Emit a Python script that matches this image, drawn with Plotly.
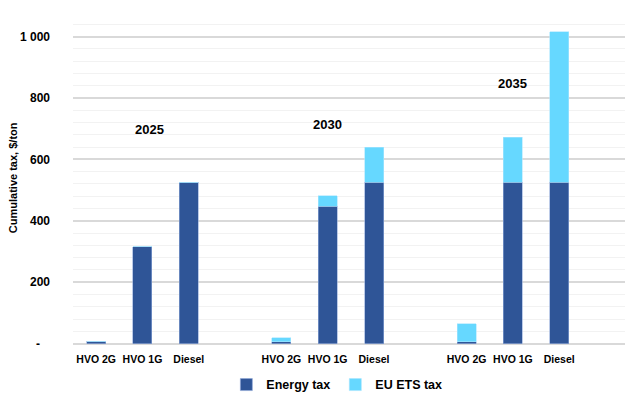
import plotly.graph_objects as go

# Cumulative tax per fuel, grouped by year
years = ["2025", "2030", "2035"]
fuels = ["HVO 2G", "HVO 1G", "Diesel"]
energy_tax = [8, 315, 526, 6, 448, 526, 6, 526, 526]
ets_tax = [0, 0, 0, 14, 33, 114, 59, 147, 489]
year_label_y = [696, 715, 846]

y_ticks = [0, 200, 400, 600, 800, 1000]
y_ticktext = ["-\u00a0\u00a0\u00a0", "200", "400", "600", "800", "1 000"]

# each year occupies four slots: three fuels plus an empty gap
x_pos = [g * 4 + i for g in range(len(years)) for i in range(len(fuels))]
x_text = [f for _ in years for f in fuels]

FONT = "Liberation Sans, Arial, sans-serif"
DARK = "#2F5597"
LIGHT = "#66D8FF"

fig = go.Figure()
fig.add_trace(go.Bar(
    x=x_pos, y=energy_tax, name="Energy tax", width=0.41,
    marker=dict(color=DARK, line=dict(color="#8FA8D8", width=0.6)),
))
fig.add_trace(go.Bar(
    x=x_pos, y=ets_tax, name="EU ETS tax", width=0.41,
    marker=dict(color=LIGHT, line=dict(color="#A8E6FF", width=0.6)),
))

for g, (yr, yy) in enumerate(zip(years, year_label_y)):
    fig.add_annotation(
        x=g * 4 + 1 + (0.15 if g == 0 else 0.0), y=yy, text=yr,
        showarrow=False, xref="x", yref="y",
        font=dict(family=FONT, size=13, color="#000000", weight="bold"),
    )

fig.update_layout(
    barmode="stack",
    width=625, height=394,
    margin=dict(l=73, r=0, t=12, b=6),
    paper_bgcolor="white", plot_bgcolor="white",
    font=dict(family=FONT, color="#000000", weight="bold"),
    showlegend=True,
    legend=dict(
        orientation="h", x=0.478, xanchor="center",
        yref="container", y=0.023, yanchor="middle",
        font=dict(family=FONT, size=12.5, color="#000000", weight="bold"),
        itemwidth=30, traceorder="normal", bgcolor="rgba(0,0,0,0)",
    ),
    xaxis=dict(
        range=[-0.5, 11.42], tickvals=x_pos, ticktext=x_text, tickangle=0,
        tickfont=dict(family=FONT, size=10.5, color="#000000", weight="bold"),
        ticklabelstandoff=8, automargin=False,
        showgrid=False, zeroline=False, showline=False, ticks="",
    ),
    yaxis=dict(
        domain=[0.0733, 1],
        range=[0, 1080], tickvals=y_ticks, ticktext=y_ticktext,
        tickfont=dict(family=FONT, size=12, color="#000000", weight="bold"),
        ticklabelstandoff=22, automargin=False,
        showgrid=True, gridcolor="#D9D9D9", gridwidth=1.5,
        minor=dict(dtick=40, tick0=0, showgrid=True, gridcolor="#F2F2F2", gridwidth=1),
        zeroline=True, zerolinecolor="#D9D9D9", zerolinewidth=1.5,
        title=dict(text="Cumulative tax, $/ton", standoff=0,
                   font=dict(family=FONT, size=11, color="#000000", weight="bold")),
    ),
)

fig.write_html("out.html")
